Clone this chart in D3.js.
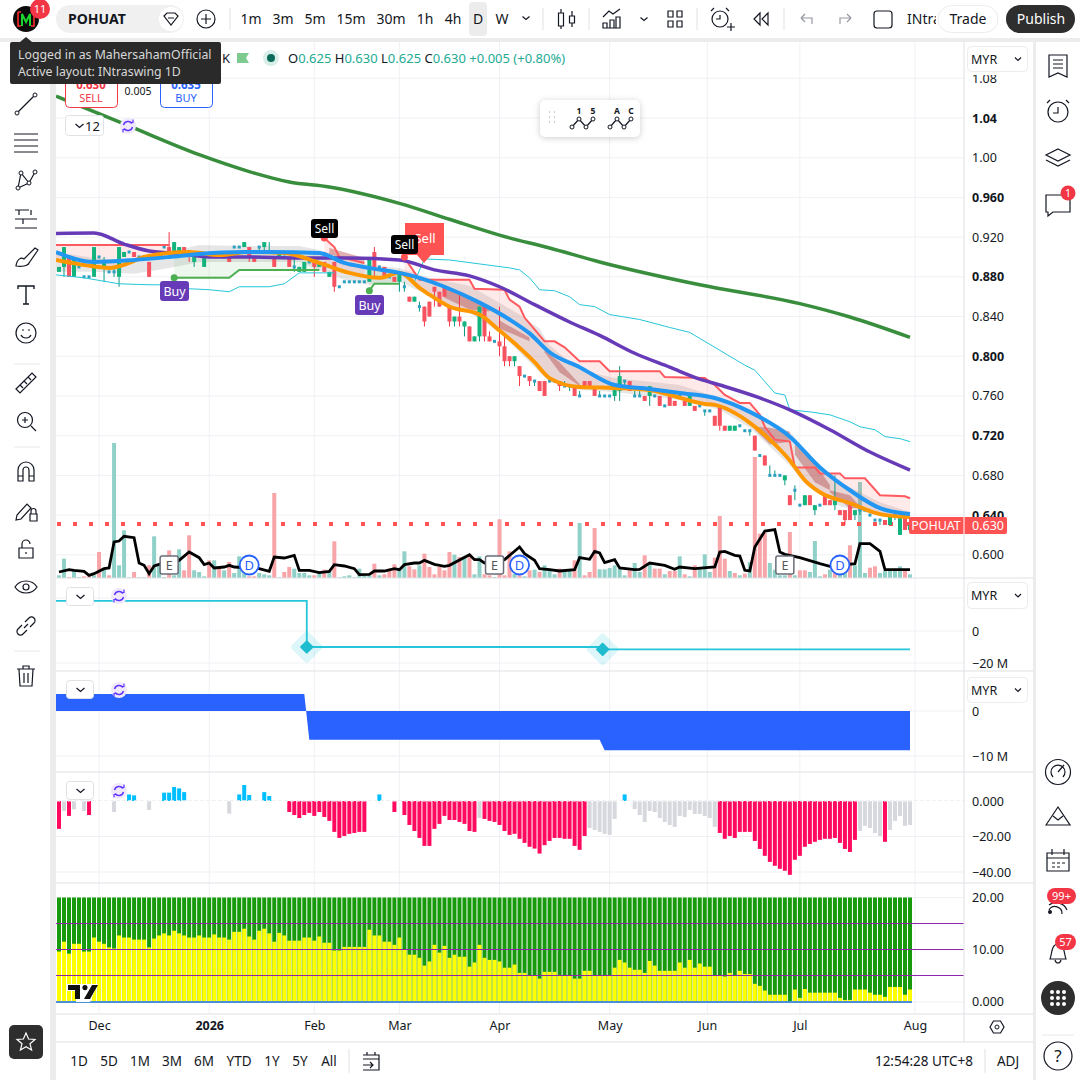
<!DOCTYPE html>
<html>
<head>
<meta charset="utf-8">
<script src="https://cdn.jsdelivr.net/npm/d3@7"></script>
<style>
  html, body { margin: 0; padding: 0; background: #fff; }
  svg { display: block; font-family: "Noto Sans", sans-serif; }
  text { fill: #131722; }
</style>
</head>
<body>
<svg id="chart"></svg>
<script>
// daily candles, one row per bar: open, high, low, close
const ohlc = [
  [.885,.89,.885,.89],[.89,.91,.88,.91],[.90,.90,.88,.88],[.88,.90,.88,.90],[.89,.89,.89,.89],
  [.88,.88,.88,.88],[.88,.88,.88,.88],[.88,.91,.88,.91],[.90,.90,.90,.90],[.89,.90,.875,.895],
  [.885,.885,.885,.885],[.885,.89,.88,.885],[.88,.91,.87,.91],[.90,.905,.90,.905],[.905,.905,.905,.905],
  [.905,.905,.90,.90],[.90,.90,.90,.90],[.90,.90,.90,.90],[.895,.895,.88,.88],[.90,.90,.90,.90],
  [.90,.905,.90,.905],[.91,.91,.91,.91],[.91,.925,.905,.905],[.905,.915,.905,.915],[.90,.91,.90,.91],
  [.91,.91,.905,.905],[.905,.905,.895,.90],[.895,.90,.89,.90],[.90,.905,.90,.905],[.89,.90,.89,.90],
  [.905,.905,.90,.90],[.90,.905,.90,.905],[.905,.905,.90,.90],[.90,.90,.90,.90],[.90,.90,.895,.895],
  [.91,.91,.91,.91],[.91,.91,.91,.91],[.91,.915,.91,.915],[.91,.91,.895,.90],[.90,.90,.895,.895],
  [.91,.91,.905,.91],[.91,.915,.905,.915],[.905,.915,.905,.905],[.90,.90,.89,.89],[.90,.905,.90,.905],
  [.90,.90,.90,.90],[.90,.90,.89,.89],[.89,.90,.885,.89],[.885,.89,.885,.89],[.885,.895,.885,.895],
  [.895,.895,.895,.895],[.895,.895,.88,.89],[.89,.895,.89,.895],[.895,.895,.885,.885],[.88,.885,.88,.885],
  [.895,.895,.865,.87],[.87,.87,.87,.87],[.875,.875,.875,.875],[.875,.875,.875,.875],[.875,.875,.875,.875],
  [.875,.875,.875,.875],[.875,.875,.875,.875],[.875,.90,.875,.90],[.905,.91,.88,.89],[.89,.89,.89,.89],
  [.89,.89,.88,.88],[.88,.88,.88,.88],[.88,.88,.875,.875],[.875,.885,.865,.885],[.87,.875,.865,.87],
  [.86,.86,.855,.855],[.855,.86,.855,.86],[.85,.855,.845,.85],[.85,.85,.83,.835],[.855,.855,.84,.84],
  [.87,.87,.85,.865],[.865,.865,.85,.85],[.87,.87,.86,.86],[.85,.85,.83,.835],[.835,.84,.83,.84],
  [.84,.865,.83,.835],[.83,.835,.82,.835],[.83,.83,.815,.815],[.815,.82,.815,.82],[.82,.85,.815,.85],
  [.85,.85,.815,.82],[.82,.825,.815,.815],[.815,.815,.815,.815],[.815,.85,.80,.81],[.81,.82,.79,.795],
  [.80,.80,.79,.795],[.795,.80,.79,.80],[.79,.79,.77,.78],[.78,.78,.78,.78],[.78,.78,.77,.775],
  [.775,.775,.77,.775],[.775,.775,.765,.765],[.775,.775,.76,.76],[.775,.78,.775,.775],[.775,.775,.775,.775],
  [.775,.775,.765,.77],[.77,.775,.77,.77],[.77,.77,.765,.77],[.77,.77,.76,.76],[.76,.765,.76,.76],
  [.775,.775,.77,.77],[.775,.775,.77,.77],[.77,.77,.76,.76],[.76,.765,.76,.76],[.76,.76,.76,.76],
  [.76,.76,.76,.76],[.76,.77,.755,.77],[.765,.79,.755,.78],[.775,.775,.77,.775],[.775,.775,.765,.765],
  [.76,.765,.76,.76],[.76,.765,.76,.76],[.76,.76,.755,.755],[.76,.77,.75,.77],[.76,.76,.76,.76],
  [.76,.76,.75,.75],[.75,.75,.75,.75],[.765,.765,.75,.75],[.755,.755,.75,.75],[.76,.76,.76,.76],
  [.755,.755,.75,.75],[.75,.76,.75,.76],[.75,.75,.745,.745],[.75,.75,.75,.75],[.745,.745,.74,.745],
  [.745,.745,.745,.745],[.74,.74,.73,.73],[.75,.75,.725,.73],[.73,.73,.725,.725],[.725,.73,.725,.73],
  [.725,.73,.725,.73],[.73,.73,.73,.73],[.725,.725,.725,.725],[.725,.725,.72,.725],[.72,.72,.705,.705],
  [.70,.70,.70,.70],[.70,.70,.69,.69],[.68,.69,.68,.68],[.68,.685,.68,.68],[.68,.68,.68,.68],
  [.675,.68,.67,.68],[.66,.66,.65,.65],[.665,.67,.655,.665],[.65,.65,.65,.65],[.65,.66,.65,.66],
  [.66,.66,.65,.65],[.645,.65,.64,.65],[.65,.65,.65,.65],[.66,.66,.65,.65],[.655,.655,.65,.65],
  [.65,.68,.645,.655],[.645,.645,.64,.64],[.645,.645,.63,.635],[.65,.65,.635,.635],[.64,.645,.635,.645],
  [.645,.645,.64,.645],[.645,.645,.645,.645],[.64,.64,.64,.64],[.635,.635,.635,.635],[.635,.635,.63,.635],
  [.635,.635,.63,.63],[.63,.64,.63,.64],[.64,.64,.635,.64],[.62,.64,.62,.64],[.64,.64,.625,.625],
  [.625,.63,.625,.63]
];

// traded volume per bar, arbitrary units
const volumes = [8,58,3,23,3,5,5,8,78,28,8,405,38,143,2,18,2,2,38,125,43,3,83,8,86,23,128,23,18,5,53,53,28,23,48,15,65,65,5,5,15,11,8,255,2,18,33,28,15,15,8,8,21,25,21,110,2,5,8,2,28,8,8,43,8,11,28,41,28,80,35,26,38,73,33,11,33,23,78,70,63,65,71,11,65,11,8,3,176,8,80,13,8,5,23,25,18,38,28,11,28,18,21,53,165,8,18,150,26,26,30,38,28,8,23,45,18,68,43,28,28,11,21,21,65,11,5,38,28,71,18,61,186,58,21,15,8,13,48,363,133,135,45,25,8,8,138,8,23,23,18,111,5,11,25,33,18,38,98,38,288,15,31,35,15,21,21,21,35,21,11];
const volumeDownBars = [2,5,6,8,10,15,18,22,25,26,30,32,34,38,39,43,45,46,51,53,55,63,65,66,67,70,71,73,74,75,76,77,78,80,82,85,86,88,89,90,92,94,96,100,103,105,106,107,114,117,119,120,122,123,125,127,131,132,133,135,137,139,140,141,146,148,149,153,155,158,162,163,169];

// oscillator drawn over the volume bars, same units as the volume
const oscillator = [[0,18],[2,25],[3,23],[5,20],[6,8],[7,13],[9,28],[10,30],[11,108],[12,111],[13,125],[15,121],[16,45],[17,38],[18,13],[19,36],[20,41],[24,53],[26,78],[28,61],[29,40],[30,45],[31,30],[33,33],[34,38],[35,33],[40,28],[42,20],[43,63],[45,60],[47,68],[48,23],[50,23],[52,16],[54,20],[55,40],[57,36],[59,28],[60,10],[62,11],[63,21],[65,21],[67,28],[68,25],[69,40],[71,45],[72,45],[73,53],[75,41],[77,35],[78,38],[82,70],[83,55],[84,55],[85,45],[89,55],[92,93],[93,73],[95,53],[96,28],[98,25],[100,21],[103,25],[104,61],[106,56],[107,80],[108,75],[109,46],[111,55],[112,30],[115,25],[116,26],[118,45],[121,38],[123,26],[124,33],[127,28],[131,33],[132,78],[133,80],[135,68],[136,66],[137,23],[138,21],[139,93],[141,141],[143,145],[144,78],[145,71],[148,61],[152,43],[154,35],[159,43],[160,103],[162,103],[164,80],[165,25],[170,25]];

// price overlays as [bar, price]
const maLong = [[-0.6,1.062],[13,1.034],[28,1.003],[38,.986],[46,.9755],[54,.9705],[68,.954],[78,.938],[88,.922],[98,.909],[108,.895],[128,.872],[148,.853],[158,.8395],[170,.819]];
const maMid = [[-0.6,.9237],[7,.9242],[13,.913],[18,.906],[25,.903],[30,.90],[38,.90],[48,.899],[58,.899],[68,.897],[75,.887],[82,.881],[88,.87],[95,.852],[102,.8345],[108,.821],[115,.803],[122,.789],[128,.777],[132,.771],[140,.758],[146,.746],[154,.726],[162,.7035],[170,.6854]];
const maFastBlue = [[-0.6,.905],[7,.895],[15,.897],[22,.90],[28,.903],[37,.905],[42,.905],[52,.904],[57,.894],[62,.889],[68,.884],[72,.879],[77,.87],[84,.854],[90,.837],[94,.823],[98,.804],[104,.789],[111,.771],[118,.767],[124,.763],[131,.758],[138,.744],[146,.719],[152,.688],[158,.665],[164,.647],[170,.641]];
const maFastOrange = [[-0.6,.897],[5,.892],[10,.889],[14,.894],[17,.90],[26,.905],[32,.902],[38,.905],[45,.904],[52,.894],[58,.884],[64,.879],[68,.884],[72,.869],[74,.862],[78,.85],[84,.842],[88,.826],[91,.813],[95,.794],[98,.778],[104,.769],[111,.768],[118,.766],[122,.761],[129,.752],[131,.751],[138,.733],[142,.716],[146,.695],[149,.675],[152,.663],[158,.652],[164,.641],[170,.638]];
const stopRed = [
  [[-0.6,.912],[22,.912]],
  [[53,.919],[55,.91],[56,.90],[61,.894]],
  [[69,.90],[70,.892],[72,.877],[82,.877],[83,.868],[89,.867],[90,.857],[92,.85],[93,.839],[95,.827],[97,.815],[99,.815],[101,.809],[104,.795],[108,.795],[110,.785],[120,.785],[121,.779],[129,.778],[131,.771],[133,.761],[136,.753],[138,.753],[140,.741],[141,.729],[143,.716],[146,.714],[147,.688],[151,.688],[152,.682],[156,.682],[157,.677],[161,.677],[164,.66],[169,.659],[170,.657]]
];
const stopGreen = [
  [[23,.879],[34,.879],[36,.887],[52,.887]],
  [[62,.866],[63,.873],[68,.873]]
];
const channel = [
  [[-0.6,.882],[5,.879],[12,.873],[18,.872],[22,.872],[26,.868],[30,.867],[34,.865],[36,.87],[42,.87],[45,.873],[48,.884],[55,.884]],
  [[71,.875],[73,.898],[78,.897],[90,.889],[92,.887],[94,.879],[96,.867],[99,.866],[102,.86],[104,.852],[107,.85],[110,.842],[116,.837],[122,.829],[126,.824],[128,.818],[137,.791],[139,.786],[143,.763],[145,.761],[146,.746],[150,.744],[154,.741],[158,.734],[160,.729],[163,.726],[165,.719],[168,.717],[170,.714]]
];
const cloudUpper = [[-0.6,.905],[7,.899],[15,.895],[22,.905],[28,.912],[37,.911],[48,.911],[52,.907],[57,.899],[62,.892],[68,.889],[74,.879],[82,.871],[88,.854],[92,.842],[96,.828],[98,.811],[104,.786],[111,.778],[124,.771],[132,.758],[138,.746],[146,.724],[150,.70],[156,.673],[164,.653],[170,.643]];
const cloudLower = [[-0.6,.885],[7,.885],[15,.883],[22,.889],[28,.895],[37,.895],[48,.895],[52,.887],[57,.877],[62,.872],[68,.875],[74,.861],[82,.844],[88,.824],[92,.804],[96,.784],[98,.774],[104,.766],[111,.764],[124,.756],[132,.746],[138,.728],[146,.69],[150,.668],[156,.649],[164,.639],[170,.636]];
// darker ribbon pieces as [bar, upper price, lower price]
const ribbon = [
  [[54,.909,.903],[61,.899,.893]],
  [[77,.872,.859],[82,.86,.847],[86,.849,.845]],
  [[88,.836,.828],[94,.819,.815]],
  [[97,.806,.804],[100,.794,.784],[104,.772,.77]],
  [[139,.729,.726],[142,.728,.711],[146,.724,.714]],
  [[147,.711,.701],[151,.693,.673],[154,.67,.665]],
  [[154,.665,.663],[158,.66,.647],[160,.649,.647]]
];
const priceTicks = [1.08,1.04,1.00,.96,.92,.88,.84,.80,.76,.72,.68,.64,.60];
const lastPrice = 0.63;

// cash flow step lines, [bar, value in millions]
const flowLine = [[-0.6,18.8],[49.5,18.8],[49.5,-10],[108.6,-10],[108.6,-11.5],[170,-11.5]];
const flowMarkers = [[49.5,-10],[108.6,-11.5]];
const flowArea = [[-0.6,3.8],[49,3.8],[50,-6.4],[108,-6.4],[109,-8.7],[170,-8.7]];

// momentum histogram: above zero is blue, fading bars are grey, the rest crimson
const momentum = [-15.7,-5.6,-8.4,-4.7,0,-5.6,-7.9,0,0,0,0,-6.2,0,0,3.7,3.2,0,0,-5,0,0,4.7,4.7,7.9,7.1,5,0,0,0,0,0,0,0,0,-7.1,0,3.7,9,3.4,0,0,5,2.8,0,0,0,-6.2,-7.9,-9.6,-7.9,-6.7,-8.4,-6.2,-9,-11.2,-17.4,-20.8,-19.7,-18.5,-18,-17.4,-17.4,0,0,3.7,0,0,-6.2,0,-7.9,-13.5,-16.9,-20.8,-25.3,-25.3,-15.7,-12.9,-8.4,-10.7,-10.7,-11.8,-12.9,-16.9,-17.4,-9.6,-10.1,-11.2,-11.8,-13.5,-16.9,-19.1,-18.5,-21.3,-23.6,-25.8,-26.8,-29.6,-24.9,-22.5,-20.8,-20.8,-21.3,-21.3,-25.3,-27.5,-19.7,-15.2,-16.3,-17.4,-18.5,-19.1,-10.1,0,3.7,0,-4.5,-7.9,-11.8,-5.6,-6.2,-9.6,-11.8,-13.5,-14.6,-8.4,-9,-5,-7.3,-7.3,-8.4,-9.6,-14.6,-18,-21.3,-19.7,-20.8,-17.4,-17.4,-17.4,-22.5,-27,-30.9,-34.3,-36.5,-38.2,-39.3,-41.6,-33.1,-30.9,-25.8,-24.2,-23,-21.9,-21.3,-21.3,-20.8,-23.6,-27,-28.7,-21.9,-16.9,-14,-15.2,-18,-19.7,-23,-16.3,-11.2,-8.4,-14,-13.5];
const fadingBars = [1,3,5,11,18,34,84,106,107,108,109,110,111,115,116,117,118,119,120,121,122,123,124,125,126,127,128,129,130,131,160,161,162,163,164,166,167,168,169,170];

// bottom pane: the yellow part of every bar, the green part reaches topLevel
const yellow = [9.6,11.5,9.2,11.1,11.1,9.6,9.6,12.3,11.5,11.1,10.4,10.2,12.7,12.3,12.3,11.9,11.9,11.9,10.4,12.1,12.7,13.1,12.7,13.6,13.1,12.7,12.3,12.3,12.7,12.3,12.3,12.9,12.3,12.3,11.9,13.4,13.4,14,12.5,11.9,13.6,14,13.1,11.5,13.2,12.7,11.7,11.7,11.7,12.3,12.3,11.7,12.5,11.3,11.3,9.8,9.8,10.5,10.5,10.5,10.5,10.5,13.8,12.7,12.7,11.5,11.5,10.9,12.3,10,9,9,8.4,6.9,7.7,10.9,9.4,10.7,8.4,9,8.6,8.6,6.7,7.5,10.9,8.4,8,8,7.7,6.5,6.5,7.1,5.5,5.5,5,5,4.4,5.7,5.7,5.7,5,5,5,4.4,4.4,5.9,5.9,5,5,5,5,6.5,8,7.5,6.5,6.1,6.1,5.5,7.8,6.9,5.9,5.9,5.9,5.9,7.5,6.5,8,6.5,7.3,6.7,6.7,5,5,4.8,5.5,5,5.9,5.3,5.3,3.4,3,2.1,1.3,1.3,1.3,1.3,.1,2.3,.7,2.4,1.7,1.7,1.7,1.7,1.7,1.7,.7,.3,.3,2.3,2.3,2.3,1.7,1.3,1.3,.9,2.8,2.8,2.8,1.3,2.3];
const topLevel = 20;
const levelLines = [15,10,5];

// time axis
const monthBars = [8,30,51,68,88,110,129.5,148,171];
const monthNames = ["Dec","2026","Feb","Mar","Apr","May","Jun","Jul","Aug"];
const earnings = [22,87,145];
const dividends = [38,92,156];

const svg = d3.select('#chart').attr('width', 1080).attr('height', 1080);
const x = d3.scaleLinear().domain([0, 170]).range([59, 910]);
const priceY = d3.scaleLinear().domain([.60, 1.04]).range([554.8, 118]);
const volumeY = d3.scaleLinear().domain([0, 405]).range([578, 443]);
const flowY = d3.scaleLinear().domain([0, -20]).range([631, 663]);
const flowAreaY = d3.scaleLinear().domain([0, -10]).range([711, 756]);
const momentumY = d3.scaleLinear().domain([0, -40]).range([801, 872]);
const pressureY = d3.scaleLinear().domain([0, 20]).range([1001.5, 897.5]);

const grid = '#f0f1f4';
const up = '#12b37c', upWick = '#089981', down = '#f7525f', downWick = '#f23645';

svg.append('clipPath').attr('id', 'mainClip')
   .append('rect').attr('x', 56).attr('y', 42).attr('width', 908).attr('height', 536);

// grid lines behind all panes
const gridG = svg.append('g').attr('stroke', grid).attr('stroke-width', 1);
gridG.selectAll('line.v').data(monthBars).enter().append('line')
     .attr('x1', d => x(d)).attr('x2', d => x(d)).attr('y1', 42).attr('y2', 1014);
const hGrid = [...priceTicks.map(priceY), 598, flowY(0), flowY(-20), flowAreaY(0), flowAreaY(-10),
               momentumY(-20), momentumY(-40), pressureY(20), 1002];
gridG.selectAll('line.h').data(hGrid).enter().append('line')
     .attr('x1', 56).attr('x2', 964).attr('y1', d => d).attr('y2', d => d);

const main = svg.append('g').attr('clip-path', 'url(#mainClip)');

// volume bars
main.append('g').selectAll('rect').data(volumes).enter().append('rect')
    .attr('x', (d, i) => x(i) - 2).attr('width', 4)
    .attr('y', d => volumeY(d)).attr('height', d => volumeY(0) - volumeY(d))
    .attr('fill', (d, i) => volumeDownBars.includes(i) ? '#f7a5a8' : '#8fd1c8');

const lineFor = d3.line().x(d => x(d[0])).y(d => priceY(d[1]));
const smoothFor = d3.line().x(d => x(d[0])).y(d => priceY(d[1])).curve(d3.curveMonotoneX);
const at = s => d3.scaleLinear().domain(s.map(d => d[0])).range(s.map(d => d[1]));

// fills between two overlays over the range of the first one
function bandBetween(a, b, fill) {
    const fb = at(b), fa = at(a);
    const from = a[0][0], to = a[a.length - 1][0];
    const bars = Array.from(new Set([...a, ...b.filter(d => d[0] >= from && d[0] <= to)].map(d => d[0]))).sort(d3.ascending);
    main.append('path')
        .attr('fill', fill)
        .attr('d', d3.area().x(d => x(d)).y0(d => priceY(fa(d))).y1(d => priceY(fb(d)))(bars));
}

bandBetween(cloudUpper, cloudLower, 'rgba(130,130,130,0.2)');
stopRed.forEach(s => bandBetween(s, maFastOrange, 'rgba(255,82,82,0.12)'));
stopGreen.forEach(s => bandBetween(s, maFastBlue, 'rgba(76,175,80,0.1)'));
ribbon.forEach(r => {
    main.append('path').attr('fill', 'rgba(170,50,50,0.38)')
        .attr('d', d3.area().x(d => x(d[0])).y0(d => priceY(d[1])).y1(d => priceY(d[2]))(r));
});

// price line of the last close
main.append('line')
    .attr('x1', 57).attr('x2', 964).attr('y1', priceY(lastPrice) - 1).attr('y2', priceY(lastPrice) - 1)
    .attr('stroke', '#ff5252').attr('stroke-width', 4).attr('stroke-dasharray', '4 12');

// candles
const candle = main.append('g').selectAll('g').data(ohlc).enter().append('g');
candle.append('line')
    .attr('x1', (d, i) => x(i)).attr('x2', (d, i) => x(i))
    .attr('y1', d => priceY(d[1])).attr('y2', d => priceY(d[2]))
    .attr('stroke', d => d[3] < d[0] ? downWick : upWick);
candle.append('rect')
    .attr('x', (d, i) => x(i) - (d[0] === d[3] ? 1.5 : 2)).attr('width', d => d[0] === d[3] ? 3 : 4)
    .attr('y', d => priceY(Math.max(d[0], d[3])) - (d[0] === d[3] ? 1.5 : 0))
    .attr('height', d => d[0] === d[3] ? 3 : priceY(Math.min(d[0], d[3])) - priceY(Math.max(d[0], d[3])))
    .attr('fill', d => d[0] === d[3] ? '#2b9fc0' : (d[3] < d[0] ? down : up));

// overlay lines
channel.forEach(s => main.append('path').attr('d', lineFor(s)).attr('fill', 'none').attr('stroke', '#26c6da').attr('stroke-width', 1));
stopRed.forEach(s => main.append('path').attr('d', lineFor(s)).attr('fill', 'none').attr('stroke', '#ff5a5f').attr('stroke-width', 2));
stopGreen.forEach(s => main.append('path').attr('d', lineFor(s)).attr('fill', 'none').attr('stroke', '#4caf50').attr('stroke-width', 2));
main.append('path').attr('d', smoothFor(maLong)).attr('fill', 'none').attr('stroke', '#388e3c').attr('stroke-width', 3.5);
main.append('path').attr('d', smoothFor(maMid)).attr('fill', 'none').attr('stroke', '#673ab7').attr('stroke-width', 3.5);
main.append('path').attr('d', smoothFor(maFastOrange)).attr('fill', 'none').attr('stroke', '#ff9800').attr('stroke-width', 4);
main.append('path').attr('d', smoothFor(maFastBlue)).attr('fill', 'none').attr('stroke', '#2196f3').attr('stroke-width', 4);

// oscillator
main.append('path')
    .attr('d', d3.line().x(d => x(d[0])).y(d => volumeY(d[1]))(oscillator))
    .attr('fill', 'none').attr('stroke', '#000').attr('stroke-width', 2.8);

// buy and sell tags
function tag(cx, top, w, h, fill, label, size) {
    const g = main.append('g');
    g.append('rect').attr('x', cx - w / 2).attr('y', top).attr('width', w).attr('height', h).attr('rx', 3).attr('fill', fill);
    g.append('text').attr('x', cx).attr('y', top + h / 2 + 4.5).attr('text-anchor', 'middle')
     .style('fill', '#fff').style('font-size', size + 'px').text(label);
}
const dotAt = (bar, price, color, r) => main.append('circle').attr('cx', x(bar)).attr('cy', priceY(price)).attr('r', r).attr('fill', color);

// red flag tag behind the black one
main.append('path').attr('d', d3.line()([[405, 223], [444, 223], [444, 255], [431, 255], [424, 263], [417, 255], [405, 255]])).attr('fill', '#ff5252');
main.append('text').attr('x', 425).attr('y', 243).attr('text-anchor', 'middle').style('fill', '#fff').style('font-size', '13px').text('Sell');
dotAt(53, .919, '#ff5252', 3.5);
dotAt(69, .90, '#ff5252', 3.5);
dotAt(23, .879, '#4caf50', 3.5);
dotAt(62, .866, '#4caf50', 3.5);
tag(324.5, 219, 27, 19, '#000', 'Sell', 12);
tag(404.5, 235, 27, 19, '#000', 'Sell', 12);
tag(174.5, 281, 29, 20, '#673ab7', 'Buy', 12.5);
tag(369.5, 295, 29, 20, '#673ab7', 'Buy', 12.5);

// earnings and dividend badges
earnings.forEach(b => {
    const g = main.append('g').attr('transform', `translate(${x(b)},565)`);
    g.append('rect').attr('x', -9).attr('y', -9).attr('width', 18).attr('height', 18).attr('rx', 2).attr('fill', '#fff').attr('stroke', '#6a6d78').attr('stroke-width', 1.5);
    g.append('text').attr('text-anchor', 'middle').attr('y', 4.5).style('font-size', '12.5px').style('fill', '#555').text('E');
});
dividends.forEach(b => {
    const g = main.append('g').attr('transform', `translate(${x(b)},565)`);
    g.append('circle').attr('r', 9.5).attr('fill', '#fff').attr('stroke', '#2962ff').attr('stroke-width', 1.8);
    g.append('text').attr('text-anchor', 'middle').attr('y', 4.5).style('font-size', '13px').style('fill', '#2962ff').text('D');
});

// cash flow line pane
svg.append('path')
    .attr('d', d3.line().x(d => x(d[0])).y(d => flowY(d[1]))(flowLine))
    .attr('fill', 'none').attr('stroke', '#26c6da').attr('stroke-width', 1.8);
flowMarkers.forEach(d => {
    const g = svg.append('g').attr('transform', `translate(${x(d[0])},${flowY(d[1])})`);
    g.append('rect').attr('x', -12).attr('y', -12).attr('width', 24).attr('height', 24).attr('transform', 'rotate(45)').attr('rx', 3).attr('fill', 'rgba(38,198,218,0.16)');
    g.append('rect').attr('x', -5).attr('y', -5).attr('width', 10).attr('height', 10).attr('transform', 'rotate(45)').attr('rx', 1).attr('fill', '#1fbccf');
});

// blue baseline area
svg.append('path')
    .attr('d', d3.area().x(d => x(d[0])).y0(flowAreaY(0)).y1(d => flowAreaY(d[1]))(flowArea))
    .attr('fill', '#2962ff');

// momentum histogram
svg.append('g').selectAll('rect').data(momentum).enter().append('rect')
    .attr('x', (d, i) => x(i) - 2).attr('width', 4)
    .attr('y', d => momentumY(Math.max(d, 0)))
    .attr('height', d => Math.abs(momentumY(d) - momentumY(0)))
    .attr('fill', (d, i) => d > 0 ? '#00bfff' : (fadingBars.includes(i) ? '#d6d8dd' : '#ff0a5f'));
svg.append('line').attr('x1', 56).attr('x2', 964).attr('y1', momentumY(0)).attr('y2', momentumY(0))
   .attr('stroke', '#fff').attr('stroke-dasharray', '4 2');
svg.append('line').attr('x1', 56).attr('x2', 964).attr('y1', momentumY(0) - 0.5).attr('y2', momentumY(0) - 0.5)
   .attr('stroke', '#e4e5e8').attr('stroke-width', 0.6).attr('stroke-dasharray', '4 2');

// bottom stacked pane
const stack = svg.append('g').selectAll('g').data(yellow).enter().append('g');
stack.append('rect').attr('x', (d, i) => x(i) - 2).attr('width', 4)
     .attr('y', pressureY(topLevel)).attr('height', pressureY(0) - pressureY(topLevel)).attr('fill', '#179a0b');
stack.append('rect').attr('x', (d, i) => x(i) - 2).attr('width', 4)
     .attr('y', d => pressureY(d)).attr('height', d => pressureY(0) - pressureY(d)).attr('fill', '#ffff00');
svg.append('g').selectAll('line').data(levelLines).enter().append('line')
   .attr('x1', 56).attr('x2', 964).attr('y1', d => pressureY(d)).attr('y2', d => pressureY(d))
   .attr('stroke', '#8e24aa').attr('stroke-width', 1.2);
svg.append('line').attr('x1', 56).attr('x2', x(170) + 2).attr('y1', pressureY(0) + 0.5).attr('y2', pressureY(0) + 0.5)
   .attr('stroke', '#4a90d9').attr('stroke-width', 2);

// tradingview mark
const mark = svg.append('g').attr('transform', 'translate(66,982)');
mark.append('path').attr('d', 'M0 2H32L24 20H10V9H0Z').attr('fill', '#fff');
mark.append('path').attr('d', 'M2 3H14V17H9V8H2Z M19 3A2.6 2.6 0 1 1 18.9 3 M26 3H32L24 17H18Z').attr('fill', '#111');

// pane borders and the scale column
const panes = [578, 671, 772, 883, 1014];
svg.append('g').attr('stroke', '#e0e1e5').selectAll('line').data(panes).enter().append('line')
   .attr('x1', 56).attr('x2', 1033).attr('y1', d => d).attr('y2', d => d);
svg.append('line').attr('x1', 964).attr('x2', 964).attr('y1', 42).attr('y2', 1042).attr('stroke', '#e0e1e5');

// value axes
function valueAxis(scale, ticks, fmt, boldFn) {
    const g = svg.append('g').attr('transform', 'translate(964,0)')
        .call(d3.axisRight(scale).tickValues(ticks).tickSize(0).tickPadding(8).tickFormat(fmt));
    g.select('.domain').remove();
    g.selectAll('text').style('font-family', '"Noto Sans", sans-serif').style('font-size', '12.5px').style('fill', '#131722')
     .style('font-weight', d => boldFn && boldFn(d) ? 700 : 400);
    return g;
}
valueAxis(priceY, priceTicks, d => d >= 1 ? d.toFixed(2) : d.toFixed(3), d => priceTicks.indexOf(d) % 2 === 1);
valueAxis(flowY, [0, -20], d => d === 0 ? '0' : '\u221220 M');
valueAxis(flowAreaY, [0, -10], d => d === 0 ? '0' : '\u221210 M');
valueAxis(momentumY, [0, -20, -40], d => d === 0 ? '0.000' : '\u2212' + Math.abs(d).toFixed(2));
valueAxis(pressureY, [20, 10, 0], d => d === 0 ? '0.000' : d.toFixed(2));

// cover above the scale, cuts the top of the highest tick label
svg.append('rect').attr('x', 965).attr('y', 42).attr('width', 68).attr('height', 33).attr('fill', '#fff');

// last price label
svg.append('rect').attr('x', 909).attr('y', priceY(lastPrice) - 8).attr('width', 98).attr('height', 17).attr('rx', 2).attr('fill', '#ff5252');
svg.append('line').attr('x1', 964).attr('x2', 964).attr('y1', priceY(lastPrice) - 8).attr('y2', priceY(lastPrice) + 9).attr('stroke', '#fff');
svg.append('text').attr('x', 936).attr('y', priceY(lastPrice) + 4.5).attr('text-anchor', 'middle').style('fill', '#fff').style('font-size', '12.5px').text('POHUAT');
svg.append('text').attr('x', 988).attr('y', priceY(lastPrice) + 4.5).attr('text-anchor', 'middle').style('fill', '#fff').style('font-size', '12.5px').text('0.630');

// time axis
const timeAxis = svg.append('g').attr('transform', 'translate(0,1014)')
    .call(d3.axisBottom(x).tickValues(monthBars).tickSize(0).tickPadding(7).tickFormat((d, i) => monthNames[i]));
timeAxis.select('.domain').remove();
timeAxis.selectAll('text').style('font-family', '"Noto Sans", sans-serif').style('font-size', '12.5px').style('fill', '#131722')
        .style('font-weight', (d, i) => monthNames[i] === '2026' ? 700 : 400);

// --- page chrome ---
svg.append('rect').attr('x', 0).attr('y', 0).attr('width', 1080).attr('height', 38).attr('fill', '#fff');
svg.append('rect').attr('x', 0).attr('y', 38).attr('width', 1080).attr('height', 4).attr('fill', '#ececec');
svg.append('rect').attr('x', 50).attr('y', 42).attr('width', 6).attr('height', 1038).attr('fill', '#ececec');
svg.append('rect').attr('x', 1033).attr('y', 42).attr('width', 3).attr('height', 1038).attr('fill', '#ececec');
svg.append('line').attr('x1', 56).attr('x2', 1033).attr('y1', 1042).attr('y2', 1042).attr('stroke', '#e0e1e5');

function label(tx, ty, str, size, opts) {
    opts = opts || {};
    return svg.append('text').attr('x', tx).attr('y', ty).attr('text-anchor', opts.anchor || 'middle')
        .style('font-size', size + 'px').style('fill', opts.fill || '#131722').style('font-weight', opts.weight || 400).text(str);
}
function icon(cx, cy, d, opts) {
    opts = opts || {};
    return svg.append('path').attr('transform', `translate(${cx},${cy})`).attr('d', d)
        .attr('fill', opts.fill || 'none').attr('stroke', opts.stroke || '#131722').attr('stroke-width', opts.width || 1.2);
}
const vbar = bx => svg.append('line').attr('x1', bx).attr('x2', bx).attr('y1', 8).attr('y2', 30).attr('stroke', '#e0e1e5');

// top bar: user badge
svg.append('circle').attr('cx', 26).attr('cy', 19).attr('r', 13).attr('fill', '#0b0b0b');
icon(26, 20, 'M-8 -8H-5M-8 -8V6H-5M8 -8H5M8 -8V6H5', { stroke: '#ff2a2a', width: 1.6 });
icon(26, 20, 'M-4 6V-6L0 2L4 -6V6', { stroke: '#1bd42f', width: 2 });
svg.append('circle').attr('cx', 40).attr('cy', 9).attr('r', 10).attr('fill', '#f23645');
label(40, 13, '11', 11, { fill: '#fff' });

svg.append('rect').attr('x', 56).attr('y', 5).attr('width', 128).attr('height', 28).attr('rx', 14).attr('fill', '#f0f0f0');
label(68, 24, 'POHUAT', 14, { anchor: 'start', weight: 700 });
svg.append('circle').attr('cx', 171).attr('cy', 19).attr('r', 12).attr('fill', '#fff');
icon(171, 19, 'M-7 -3L-4 -6H4L7 -3L0 6Z M-3 -1H3');
svg.append('circle').attr('cx', 206).attr('cy', 19).attr('r', 9).attr('fill', 'none').attr('stroke', '#131722').attr('stroke-width', 1.2);
icon(206, 19, 'M-5 0H5M0 -5V5');
vbar(230);
[['1m', 251], ['3m', 283], ['5m', 315], ['15m', 351], ['30m', 391], ['1h', 425], ['4h', 453], ['W', 502]].forEach(d => label(d[1], 24, d[0], 14));
svg.append('rect').attr('x', 469).attr('y', 2).attr('width', 18).attr('height', 34).attr('rx', 4).attr('fill', '#ececec');
label(478, 24, 'D', 14);
icon(526, 18, 'M-3.5 -1.5L0 1.5L3.5 -1.5');
vbar(543);
icon(567, 19, 'M-6 -6V-10M-6 7V10M-8.5 -6H-3.5V7H-8.5Z M5 -3V-8M5 4V8M2.5 -3H7.5V4H2.5Z');
vbar(589);
icon(612, 19, 'M-9 -2L-3 -8L1 -5L8 -10 M-9 9V4H-5V9H-2V1H2V9H4V-2H8V9Z');
icon(644, 19, 'M-3.5 -1.5L0 1.5L3.5 -1.5');
icon(675, 19, 'M-7 -8H-2V-2H-7Z M2 -8H7V-2H2Z M-7 2H-2V8H-7Z M2 2H7V8H2Z');
vbar(697);
svg.append('circle').attr('cx', 720).attr('cy', 19).attr('r', 8).attr('fill', 'none').attr('stroke', '#131722').attr('stroke-width', 1.2);
icon(720, 19, 'M0 -4V0H-4 M-9 -8L-6 -11 M9 -8L6 -11 M7 8H15M11 4V12');
icon(761, 19, 'M-1 -6L-7 0L-1 6Z M7 -6L1 0L7 6Z');
vbar(784);
icon(807, 19, 'M-6 -1L-2 -5M-6 -1L-2 3M-6 -1H5V5', { stroke: '#9598a1' });
icon(845, 19, 'M6 -1L2 -5M6 -1L2 3M6 -1H-5V5', { stroke: '#9598a1' });
svg.append('rect').attr('x', 874).attr('y', 11).attr('width', 18).attr('height', 17).attr('rx', 3).attr('fill', 'none').attr('stroke', '#131722').attr('stroke-width', 1.2);
svg.append('clipPath').attr('id', 'intraClip').append('rect').attr('x', 900).attr('y', 0).attr('width', 36).attr('height', 38);
label(907, 24, 'INtra', 14, { anchor: 'start' }).attr('clip-path', 'url(#intraClip)');
svg.append('rect').attr('x', 938).attr('y', 5.5).attr('width', 60).attr('height', 27).attr('rx', 13.5).attr('fill', '#fff').attr('stroke', '#ececec');
label(968, 24, 'Trade', 14);
svg.append('rect').attr('x', 1006).attr('y', 5).attr('width', 69).attr('height', 28).attr('rx', 14).attr('fill', '#2e2e2e');
label(1041, 24, 'Publish', 14, { fill: '#fff' });

// legend row, order buttons and pane controls
label(222, 63, 'K', 13, { anchor: 'start' });
icon(243, 58, 'M-6 -5H6L3 0L6 5H-6Z', { fill: '#7ecb8f', stroke: 'none' });
svg.append('circle').attr('cx', 271).attr('cy', 58).attr('r', 8).attr('fill', '#d8efe9');
svg.append('circle').attr('cx', 271).attr('cy', 58).attr('r', 4).attr('fill', '#0b6b5a');
const legendText = svg.append('text').attr('x', 288).attr('y', 63).style('font-size', '13px').attr('xml:space', 'preserve').style('white-space', 'pre');
[['O', 0], ['0.625', 1], [' H', 0], ['0.630', 1], [' L', 0], ['0.625', 1], [' C', 0], ['0.630', 1], [' +0.005 (+0.80%)', 1]].forEach(d => {
    legendText.append('tspan').text(d[0]).style('fill', d[1] ? '#22ab94' : '#131722');
});

svg.append('rect').attr('x', 65.5).attr('y', 70).attr('width', 52).attr('height', 37.5).attr('rx', 4).attr('fill', '#fff').attr('stroke', '#f23645');
svg.append('rect').attr('x', 160.5).attr('y', 70).attr('width', 52).attr('height', 37.5).attr('rx', 4).attr('fill', '#fff').attr('stroke', '#2962ff');
label(91, 89, '0.630', 11.5, { fill: '#f23645', weight: 700 });
label(186, 89, '0.635', 11.5, { fill: '#2962ff', weight: 700 });
label(91, 102, 'SELL', 11, { fill: '#f23645' });
label(186, 102, 'BUY', 11, { fill: '#2962ff' });
label(138, 95, '0.005', 10.5);

function refresh(cx, cy) {
    svg.append('circle').attr('cx', cx).attr('cy', cy).attr('r', 8).attr('fill', '#efe9fb');
    icon(cx, cy, 'M-4.5 -1A4.8 4.8 0 0 1 4 -2.5M4.5 1A4.8 4.8 0 0 1 -4 2.5', { stroke: '#6236ff', width: 1.5 });
    icon(cx, cy, 'M2 -3.5H5V-6.5M-2 3.5H-5V6.5', { stroke: '#6236ff', width: 1.2 });
}
function chevronBox(bx, by, w, h, txt) {
    svg.append('rect').attr('x', bx).attr('y', by).attr('width', w).attr('height', h).attr('rx', 3).attr('fill', '#fff').attr('stroke', '#e0e1e5');
    icon(bx + 14, by + h / 2, 'M-4 -1.5L0 2L4 -1.5');
    if (txt) label(bx + 27, by + h / 2 + 5, txt, 13);
}
chevronBox(65.5, 115.5, 38, 20, '12');
refresh(128, 126);
chevronBox(66.5, 587.5, 27, 18);
refresh(119, 596);
chevronBox(66.5, 680.5, 27, 18);
refresh(119, 690);
chevronBox(66.5, 781.5, 27, 18);
refresh(119, 791);

function currencyBox(by, h) {
    svg.append('rect').attr('x', 967.5).attr('y', by).attr('width', 60).attr('height', h).attr('rx', 4).attr('fill', '#fff').attr('stroke', '#ececec');
    label(971, by + h / 2 + 4.5, 'MYR', 12.5, { anchor: 'start' });
    icon(1018, by + h / 2, 'M-3 -1.5L0 1.5L3 -1.5');
}
currencyBox(46.5, 25);
currencyBox(582.5, 26);
currencyBox(677.5, 25);

// floating wave tool
svg.append('rect').attr('x', 540).attr('y', 100).attr('width', 100).attr('height', 37).attr('rx', 5).attr('fill', '#fff').style('filter', 'drop-shadow(0 1px 3px rgba(0,0,0,0.2))');
icon(552, 118, 'M-3 -6H-2M2 -6H3M-3 -1H-2M2 -1H3M-3 4H-2M2 4H3', { stroke: '#c8cad0', width: 2 });
[[583, '1', '5'], [621, 'A', 'C']].forEach(d => {
    icon(d[0], 122, 'M-11 5L-4 -3L3 5L10 -3');
    [[-11, 5], [-4, -3], [3, 5], [10, -3]].forEach(p => svg.append('circle').attr('cx', d[0] + p[0]).attr('cy', 122 + p[1]).attr('r', 2).attr('fill', '#fff').attr('stroke', '#131722'));
    label(d[0] - 4, 114, d[1], 8.5, { weight: 700 });
    label(d[0] + 10, 114, d[2], 8.5, { weight: 700 });
});

// tooltip above everything on the left
svg.append('path').attr('d', 'M20 42L26 37L32 42Z').attr('fill', '#2a2a2a');
svg.append('rect').attr('x', 10).attr('y', 42).attr('width', 211).attr('height', 42).attr('rx', 2).attr('fill', '#2a2a2a');
label(18, 59, 'Logged in as MahersahamOfficial', 12.3, { anchor: 'start', fill: '#d8d8d8' });
label(18, 76, 'Active layout: INtraswing 1D', 12.3, { anchor: 'start', fill: '#d8d8d8' });

// left toolbar
icon(26, 104, 'M-9 9L9 -9', { width: 1.3 });
[[-9, 9], [9, -9]].forEach(p => svg.append('circle').attr('cx', 26 + p[0]).attr('cy', 104 + p[1]).attr('r', 2).attr('fill', '#fff').attr('stroke', '#131722'));
icon(26, 143, 'M-12 -9H12M-12 -3H12M-12 3H12M-12 9H12');
icon(26, 180, 'M-8 8L-5 -7L3 3L9 -8M-8 8L3 3', {});
[[-8, 8], [-5, -7], [3, 3], [9, -8]].forEach(p => svg.append('circle').attr('cx', 26 + p[0]).attr('cy', 180 + p[1]).attr('r', 2).attr('fill', '#fff').attr('stroke', '#131722'));
icon(26, 219, 'M-11 -9H3M-11 0H11M-11 9H11M-7 -9V-4M-3 0V5M5 -9V-4');
icon(26, 257, 'M-10 9C-9 2 -5 0 -2 2L9 -9L12 -7L3 6C2 9 -5 10 -10 9Z');
icon(26, 295, 'M-8 -6V-9H8V-6M0 -9V9M-3 9H3', { width: 1.4 });
svg.append('circle').attr('cx', 26).attr('cy', 333).attr('r', 10).attr('fill', 'none').attr('stroke', '#131722').attr('stroke-width', 1.2);
icon(26, 333, 'M-5 2C-3 6 3 6 5 2M-4 -3H-2M2 -3H4');
icon(26, 383, 'M-10 6L6 -10L10 -6L-6 10Z M-6 2L-3 5M-2 -2L1 1M2 -6L5 -3');
svg.append('circle').attr('cx', 25).attr('cy', 420).attr('r', 7.5).attr('fill', 'none').attr('stroke', '#131722').attr('stroke-width', 1.2);
icon(25, 420, 'M-3 0H3M0 -3V3M6 6L11 11');
icon(26, 472, 'M-8 9V-2A8 8 0 0 1 8 -2V9H3V-2A3 3 0 0 0 -3 -2V9Z M-8 4H-3M3 4H8');
icon(26, 511, 'M-10 9L-9 4L1 -7L5 -3L-5 8Z M4 3H11V10H4Z M5 3V0A2.5 2.5 0 0 1 10 0V3');
icon(26, 549, 'M-7 -1H7V9H-7Z M-4 -1V-5A4 4 0 0 1 4 -5M0 3V5');
icon(26, 587, 'M-11 0C-6 -8 6 -8 11 0C6 8 -6 8 -11 0Z');
svg.append('circle').attr('cx', 26).attr('cy', 587).attr('r', 3).attr('fill', 'none').attr('stroke', '#131722').attr('stroke-width', 1.2);
icon(26, 626, 'M-2 2L2 -2M-4 -1L-8 3A3 3 0 0 0 -3 8L1 4M4 1L8 -3A3 3 0 0 0 3 -8L-1 -4');
icon(26, 676, 'M-9 -7H9M-3 -7V-10H3V-7M-7 -7L-6 10H6L7 -7M-2 -3V7M2 -3V7');
[364, 447, 651].forEach(d => svg.append('line').attr('x1', 14).attr('x2', 40).attr('y1', d).attr('y2', d).attr('stroke', '#e8e8e8'));
svg.append('rect').attr('x', 9).attr('y', 1025).attr('width', 34).attr('height', 34).attr('rx', 5).attr('fill', '#2e2e2e');
icon(26, 1042, 'M0 -9L2.6 -3L9 -2.5L4 1.8L5.6 8L0 4.8L-5.6 8L-4 1.8L-9 -2.5L-2.6 -3Z', { stroke: '#fff' });

// right toolbar
icon(1058, 66, 'M-9 -11H9V11L0 7L-9 11Z M-5 -6H5M-5 -2H5M-5 2H5');
svg.append('circle').attr('cx', 1058).attr('cy', 112).attr('r', 10).attr('fill', 'none').attr('stroke', '#131722').attr('stroke-width', 1.2);
icon(1058, 112, 'M0 -5V1H-5M-11 -9L-8 -12M11 -9L8 -12');
icon(1058, 158, 'M0 -9L12 -3L0 3L-12 -3Z M-12 2L0 8L12 2');
icon(1058, 204, 'M-12 -9H12V8H-5L-10 12V8H-12Z');
svg.append('circle').attr('cx', 1068).attr('cy', 193).attr('r', 7.5).attr('fill', '#f23645');
label(1068, 197, '1', 10.5, { fill: '#fff' });
svg.append('circle').attr('cx', 1058).attr('cy', 772).attr('r', 12.5).attr('fill', 'none').attr('stroke', '#131722').attr('stroke-width', 1.2);
icon(1058, 772, 'M-5 5A7 7 0 1 1 5 5M0 0L6 -7');
icon(1058, 816, 'M-12 9L0 -9L12 9Z M-5 0L0 4L5 0');
icon(1058, 860, 'M-11 -7H11V11H-11Z M-11 -2H11M-6 -11V-5M6 -11V-5 M-6 3H-3M-1 3H2M4 3H7M-6 7H-3M-1 7H2');
icon(1058, 908, 'M-9 -3A12 12 0 0 1 9 2M-9 2A7 7 0 0 1 4 6');
svg.append('circle').attr('cx', 1050).attr('cy', 912).attr('r', 2).attr('fill', '#131722');
svg.append('rect').attr('x', 1047).attr('y', 888).attr('width', 29).attr('height', 16).attr('rx', 8).attr('fill', '#f23645');
label(1061.5, 900, '99+', 11, { fill: '#fff' });
icon(1058, 952, 'M-8 7C-6 3 -7 -8 0 -8C7 -8 6 3 8 7Z M-3 8C-2 12 2 12 3 8');
svg.append('rect').attr('x', 1055).attr('y', 934).attr('width', 21).attr('height', 16).attr('rx', 8).attr('fill', '#f23645');
label(1065.5, 946, '57', 11, { fill: '#fff' });
svg.append('circle').attr('cx', 1058).attr('cy', 998).attr('r', 17).attr('fill', '#2e2e2e');
[-6, 0, 6].forEach(a => [-6, 0, 6].forEach(b => svg.append('circle').attr('cx', 1058 + a).attr('cy', 998 + b).attr('r', 2).attr('fill', '#fff')));
svg.append('line').attr('x1', 1042).attr('x2', 1074).attr('y1', 1035).attr('y2', 1035).attr('stroke', '#e8e8e8');
svg.append('circle').attr('cx', 1058).attr('cy', 1056).attr('r', 14).attr('fill', 'none').attr('stroke', '#131722').attr('stroke-width', 1.2);
label(1058, 1062, '?', 17);

// bottom bar
[['1D', 79], ['5D', 109], ['1M', 140], ['3M', 172], ['6M', 204], ['YTD', 239], ['1Y', 272], ['5Y', 300], ['All', 329]].forEach(d => label(d[1], 1066, d[0], 13.5));
svg.append('line').attr('x1', 349).attr('x2', 349).attr('y1', 1049).attr('y2', 1073).attr('stroke', '#e0e1e5');
icon(371, 1061, 'M-8 -6H8V9H-8 M-8 -2H8M-4 -9V-6M4 -9V-6M-8 4H2M-1 1L2 4L-1 7');
label(924, 1066, '12:54:28 UTC+8', 13.5);
svg.append('line').attr('x1', 985).attr('x2', 985).attr('y1', 1049).attr('y2', 1073).attr('stroke', '#e0e1e5');
label(1008, 1066, 'ADJ', 13.5);
icon(997, 1027, 'M-7 0L-3.5 -6H3.5L7 0L3.5 6H-3.5Z');
svg.append('circle').attr('cx', 997).attr('cy', 1027).attr('r', 2).attr('fill', 'none').attr('stroke', '#131722');
</script>
</body>
</html>
